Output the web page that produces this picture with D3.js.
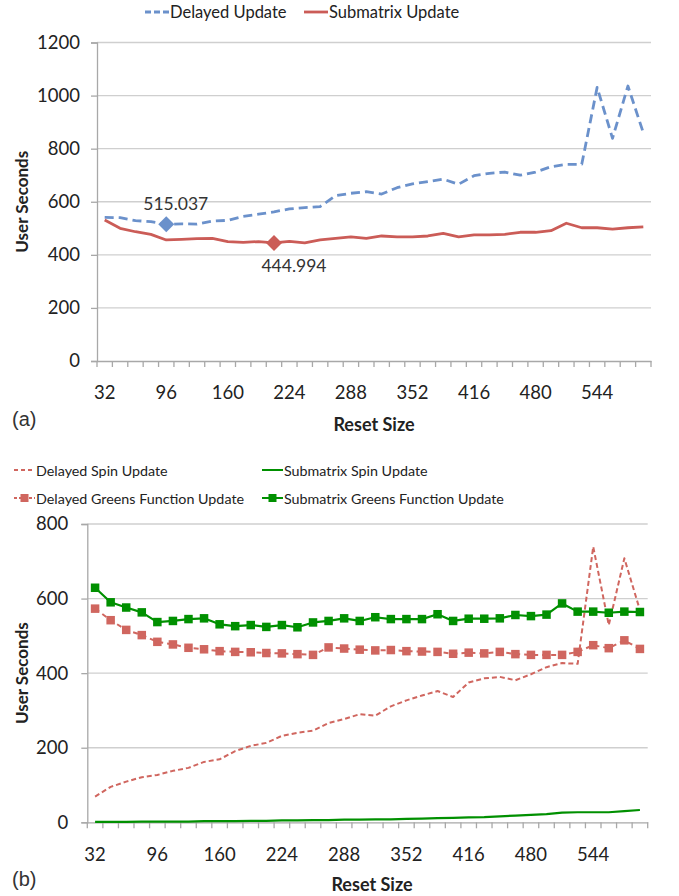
<!DOCTYPE html>
<html>
<head>
<meta charset="utf-8">
<script src="https://cdn.jsdelivr.net/npm/d3@7"></script>
<style>
  html, body { margin: 0; padding: 0; background: #fff; }
  svg { display: block; font-family: Lato, "Open Sans", sans-serif; }
</style>
</head>
<body>
<svg id="chart" width="679" height="896"></svg>
<script>
// ---------- DATA ----------
const resetSizes = [32,48,64,80,96,112,128,144,160,176,192,208,224,240,256,272,288,304,320,336,352,368,384,400,416,432,448,464,480,496,512,528,544,560,576,592];
const xTickLabels = [32,96,160,224,288,352,416,480,544];

// (a)
const delayedUpdate = [541,540,529,525,515.037,517,516,527,530,545,553,562,573,578,582,623,632,638,629,653,667,676,685,666,698,707,712,700,712,732,741,741,1031,839,1036,860];
const submatrixUpdate = [531,500,487,477,456,458,461,462,450,447,450,444.994,451,445,456,462,468,462,471,468,468,471,481,468,475,475,477,485,485,491,519,502,502,497,502,505];
const yTicksA = [0,200,400,600,800,1000,1200];
const highlightA = [{series:"Delayed Update", size:96, value:515.037, label:"515.037"},
                    {series:"Submatrix Update", size:208, value:444.994, label:"444.994"}];

// (b)
const delayedSpin = [69,95,109,121,127,138,146,162,169,191,205,213,232,240,246,266,277,290,286,311,327,340,352,336,375,386,390,381,397,416,427,425,739,529,708,569];
const submatrixSpin = [1,1,1,2,2,2,2,3,3,3,4,4,5,5,6,6,7,7,8,8,9,10,11,12,13,14,16,18,20,22,26,27,27,27,30,33];
const delayedGreens = [573,542,516,502,484,477,468,464,459,457,456,454,453,451,449,469,466,463,461,462,459,458,457,452,455,453,457,451,449,449,449,457,475,467,488,465];
const submatrixGreens = [629,590,576,563,537,540,545,547,531,526,529,524,529,523,536,540,547,540,550,545,545,545,558,540,546,546,547,556,553,557,587,565,565,562,565,564];
const yTicksB = [0,200,400,600,800];

// ---------- STYLE ----------
const BLUE = "#6b91cb", RED = "#cb5c57", RED2 = "#d0665f", GREEN = "#009000";
const GRID = "#cfcfcf", AXIS = "#a8a8a8", TEXT = "#222";
const FONT = "Lato, 'Open Sans', sans-serif";

const svg = d3.select("#chart");

function panel(opts) {
  const g = svg.append("g");
  const x = d3.scaleBand().domain(resetSizes).range([opts.left, opts.right]).padding(0);
  const y = d3.scaleLinear().domain([0, opts.ymax]).range([opts.bottom, opts.top]);
  const cx = d => x(d) + x.bandwidth() / 2;

  g.append("g").selectAll("line").data(opts.yTicks.filter(t => t > 0)).join("line")
    .attr("x1", opts.left).attr("x2", opts.right)
    .attr("y1", d => y(d)).attr("y2", d => y(d))
    .attr("stroke", GRID).attr("stroke-width", 1.3);

  const ya = g.append("g").attr("transform", `translate(${opts.left},0)`)
    .call(d3.axisLeft(y).tickValues(opts.yTicks).tickSize(6).tickPadding(opts.yPad).tickFormat(d3.format("d")));
  ya.select(".domain").attr("stroke", AXIS).attr("stroke-width", 1.3);
  ya.selectAll(".tick line").attr("stroke", AXIS).attr("stroke-width", 1.3);
  ya.selectAll("text").attr("font-family", FONT).attr("font-size", opts.tickFont).attr("fill", TEXT);

  const bounds = resetSizes.map(d => x(d)).concat([opts.right]);
  g.append("g").selectAll("line").data(bounds).join("line")
    .attr("x1", d => d).attr("x2", d => d)
    .attr("y1", opts.bottom).attr("y2", opts.bottom + 6)
    .attr("stroke", AXIS).attr("stroke-width", 1.3);
  const xa = g.append("g").attr("transform", `translate(0,${opts.bottom})`)
    .call(d3.axisBottom(x).tickValues(xTickLabels).tickSize(0).tickPadding(opts.xPad));
  xa.select(".domain").attr("stroke", AXIS).attr("stroke-width", 1.3);
  xa.selectAll("text").attr("font-family", FONT).attr("font-size", opts.tickFont).attr("fill", TEXT);

  g.append("text").attr("transform", `translate(${opts.yTitleX},${(opts.top + opts.bottom) / 2}) rotate(-90)`)
    .attr("text-anchor", "middle").attr("font-family", FONT).attr("font-weight", "bold")
    .attr("font-size", 17).attr("fill", TEXT).text("User Seconds");
  g.append("text").attr("x", opts.xTitleX).attr("y", opts.xTitleY)
    .attr("text-anchor", "middle").attr("font-family", FONT).attr("font-weight", "bold")
    .attr("font-size", 18).attr("fill", TEXT).text("Reset Size");
  g.append("text").attr("x", 12).attr("y", opts.panelLabelY)
    .attr("font-family", "'Liberation Sans', Arial, sans-serif").attr("font-size", 20).attr("fill", "#333").text(opts.panelLabel);

  return {g, x, y, cx};
}

function drawLine(p, values, color, width, dash) {
  const line = d3.line().x((d, i) => p.cx(resetSizes[i])).y(d => p.y(d));
  p.g.append("path").datum(values).attr("d", line)
    .attr("fill", "none").attr("stroke", color).attr("stroke-width", width)
    .attr("stroke-dasharray", dash || null).attr("stroke-linejoin", "round");
}
function drawSquares(p, values, color, size) {
  p.g.append("g").selectAll("rect").data(values).join("rect")
    .attr("x", (d, i) => p.cx(resetSizes[i]) - size / 2)
    .attr("y", d => p.y(d) - size / 2)
    .attr("width", size).attr("height", size).attr("fill", color);
}

// ---------- PANEL (a) ----------
const A = panel({left: 97, right: 651, top: 42.5, bottom: 361, ymax: 1200, yTicks: yTicksA,
  tickFont: 18.5, xPad: 25, yPad: 11, yTitleX: 28, xTitleX: 374, xTitleY: 431, panelLabel: "(a)", panelLabelY: 426});
drawLine(A, delayedUpdate, BLUE, 2.8, "9,5");
drawLine(A, submatrixUpdate, RED, 2.8, null);
highlightA.forEach(h => {
  const isDelayed = h.series === "Delayed Update";
  const col = isDelayed ? BLUE : RED;
  const px = A.cx(h.size), py = A.y(h.value);
  const r = 8;
  A.g.append("path").attr("d", `M${px},${py - r}L${px + r},${py}L${px},${py + r}L${px - r},${py}Z`)
    .attr("fill", col);
  A.g.append("text").attr("x", px + (isDelayed ? 9.5 : 20)).attr("y", isDelayed ? py - 14 : py + 29)
    .attr("text-anchor", "middle").attr("font-family", FONT).attr("font-size", 17.5)
    .attr("fill", "#333").text(h.label);
});

// legend (a)
const legA = svg.append("g");
[["Delayed Update", BLUE, "6,3", 145], ["Submatrix Update", RED, null, 304]].forEach(([t, c, dash, x0]) => {
  legA.append("line").attr("x1", x0).attr("x2", x0 + 24).attr("y1", 12).attr("y2", 12)
    .attr("stroke", c).attr("stroke-width", 2.8).attr("stroke-dasharray", dash);
  legA.append("text").attr("x", x0 + 25).attr("y", 18).attr("font-family", FONT)
    .attr("font-size", 16.5).attr("fill", TEXT).text(t);
});

// ---------- PANEL (b) ----------
const B = panel({left: 87.3, right: 647.7, top: 524, bottom: 822.3, ymax: 800, yTicks: yTicksB,
  tickFont: 18.5, xPad: 26, yPad: 13, yTitleX: 28, xTitleX: 372, xTitleY: 891, panelLabel: "(b)", panelLabelY: 886});
drawLine(B, delayedSpin, RED2, 2, "5,3");
drawLine(B, submatrixSpin, GREEN, 2.2, null);
drawLine(B, delayedGreens, RED2, 2, "5,4");
drawSquares(B, delayedGreens, RED2, 8.5);
drawLine(B, submatrixGreens, GREEN, 2.2, null);
drawSquares(B, submatrixGreens, GREEN, 8.5);

// legend (b)
const legB = svg.append("g");
const legItems = [
  {t: "Delayed Spin Update", c: RED2, dash: "4,3", sq: false, x: 14, y: 470},
  {t: "Submatrix Spin Update", c: GREEN, dash: null, sq: false, x: 262, y: 470},
  {t: "Delayed Greens Function Update", c: RED2, dash: "4,3", sq: true, x: 14, y: 498},
  {t: "Submatrix Greens Function Update", c: GREEN, dash: null, sq: true, x: 262, y: 498}
];
legItems.forEach(it => {
  legB.append("line").attr("x1", it.x).attr("x2", it.x + 21).attr("y1", it.y).attr("y2", it.y)
    .attr("stroke", it.c).attr("stroke-width", 2).attr("stroke-dasharray", it.sq && it.dash ? "3,2" : it.dash);
  if (it.sq) legB.append("rect").attr("x", it.x + 6.5).attr("y", it.y - 4).attr("width", 8).attr("height", 8).attr("fill", it.c);
  legB.append("text").attr("x", it.x + 22).attr("y", it.y + 5.5).attr("font-family", FONT)
    .attr("font-size", 14.3).attr("fill", TEXT).text(it.t);
});
</script>
</body>
</html>
